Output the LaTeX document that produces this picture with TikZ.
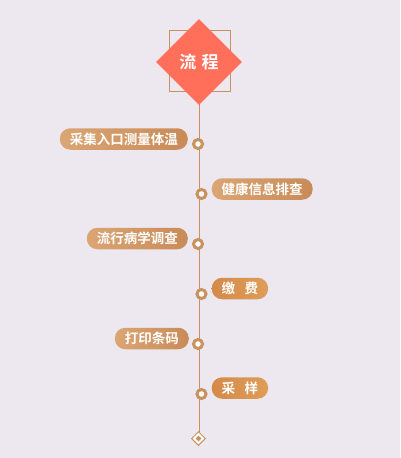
\documentclass[tikz,border=0pt]{standalone}
\usepackage{fontspec}
\newfontfamily\cjk{Noto Sans CJK SC Bold}
\usetikzlibrary{shapes.geometric}
\definecolor{bg}{HTML}{EDE8F0}
\definecolor{tan}{HTML}{C8925F}
\definecolor{pillL}{HTML}{DBA574}
\definecolor{pillR}{HTML}{C88B58}
\definecolor{orL}{HTML}{D58A4A}
\definecolor{orR}{HTML}{DE9D58}
\definecolor{tomato}{HTML}{FF6F5A}
\tikzset{
  pill/.style={rounded corners=10.5pt, minimum height=21.5pt, inner xsep=10pt, inner ysep=0pt,
    text=white, font=\cjk\fontsize{13.5}{13.5}\selectfont, shade, shading angle=90},
  pilltan/.style={pill, left color=pillL, right color=pillR},
  pillor/.style={pill, left color=orL, right color=orR},
  dot/.style={circle, draw=tan, line width=3pt, fill=white, minimum size=9pt, inner sep=0pt},
}
\begin{document}
\begin{tikzpicture}[x=1pt,y=-1pt]
\fill[bg] (0,0) rectangle (400,458);
\useasboundingbox (0,0) rectangle (400,458);
\coordinate (top) at (199.5,95);
\coordinate (bot) at (199.5,432);
\draw[tan, line width=1.2pt] (top) -- (bot);
\node[draw=tan, line width=0.8pt, minimum size=61pt, inner sep=0pt] (sq) at (199.5,60.5) {};
\node[diamond, fill=tomato, minimum size=86pt, inner sep=0pt, text=white,
  font=\cjk\fontsize{17}{17}\selectfont] (head) at (199,62) {流\hspace{0.3em}程};
% items
\node[dot] (d1) at (198,144) {};
\node[pilltan, anchor=east] (p1) at (188,139) {采集入口测量体温};
\node[dot] (d2) at (201.5,194) {};
\node[pilltan, anchor=west] (p2) at (211.5,189) {健康信息排查};
\node[dot] (d3) at (198,244) {};
\node[pilltan, anchor=east] (p3) at (188,238.5) {流行病学调查};
\node[dot] (d4) at (201.5,294) {};
\node[pillor, anchor=west] (p4) at (211.5,288.5) {缴\hspace{0.7em}费};
\node[dot] (d5) at (198,344) {};
\node[pilltan, anchor=east] (p5) at (189,338.5) {打印条码};
\node[dot] (d6) at (201.5,394) {};
\node[pillor, anchor=west] (p6) at (211.5,388) {采\hspace{0.7em}样};
% end marker
\node[diamond, draw=tan, line width=1pt, fill=white, minimum size=14pt, inner sep=0pt] (end) at (198.5,438.5) {};
\node[diamond, fill=tan, minimum size=6pt, inner sep=0pt] (endin) at (end.center) {};
\end{tikzpicture}
\end{document}
